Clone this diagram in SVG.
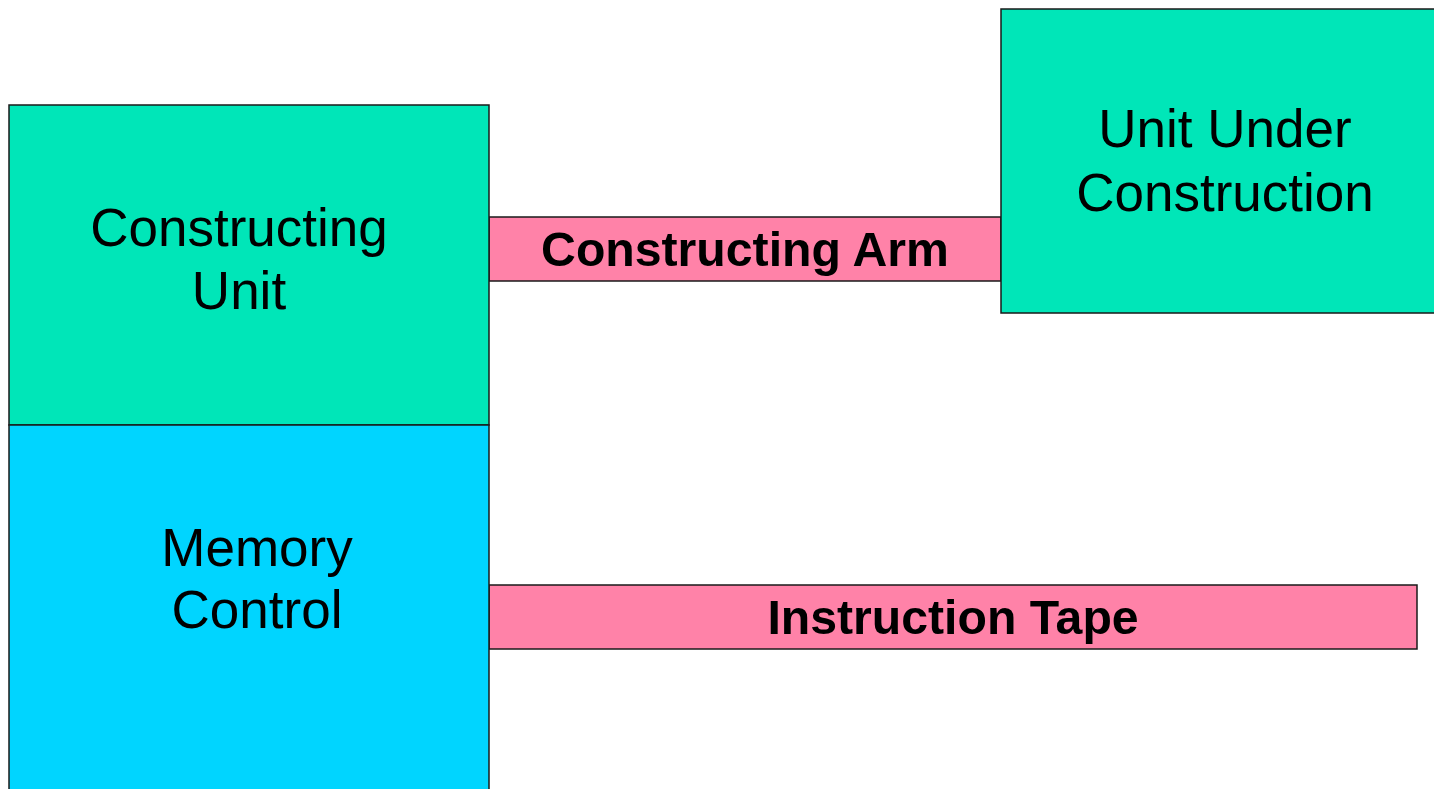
<svg xmlns="http://www.w3.org/2000/svg" width="1434" height="789" viewBox="0 0 1434 789">
<style>
.box{stroke:#1a1a1a;stroke-width:1.5}
.green{fill:#00E6B8}
.cyan{fill:#00D5FF}
.pink{fill:#FF82A8}
.t{font-family:"Liberation Sans",Arial,sans-serif;font-size:53px;fill:#000;text-anchor:middle}
.b{font-family:"Liberation Sans",Arial,sans-serif;font-size:48.2px;font-weight:bold;fill:#000;text-anchor:middle}
</style>
<rect width="1434" height="789" fill="#fff"/>
<g id="connectors">
<g id="constructing-arm">
<rect class="box pink" x="489" y="217" width="512" height="64"/>
<text class="b" x="745" y="266">Constructing Arm</text>
</g>
<g id="instruction-tape">
<rect class="box pink" x="489" y="585" width="928" height="64"/>
<text class="b" x="953" y="634">Instruction Tape</text>
</g>
</g>
<g id="constructing-unit">
<rect class="box green" x="9" y="105" width="480" height="320"/>
<text class="t" x="239" y="246">Constructing</text>
<text class="t" x="239" y="309">Unit</text>
</g>
<g id="memory-control">
<rect class="box cyan" x="9" y="425" width="480" height="380"/>
<text class="t" x="257" y="566">Memory</text>
<text class="t" x="257" y="628">Control</text>
</g>
<g id="unit-under-construction">
<rect class="box green" x="1001" y="9" width="450" height="304"/>
<text class="t" x="1225" y="147">Unit Under</text>
<text class="t" x="1225" y="211">Construction</text>
</g>
</svg>
